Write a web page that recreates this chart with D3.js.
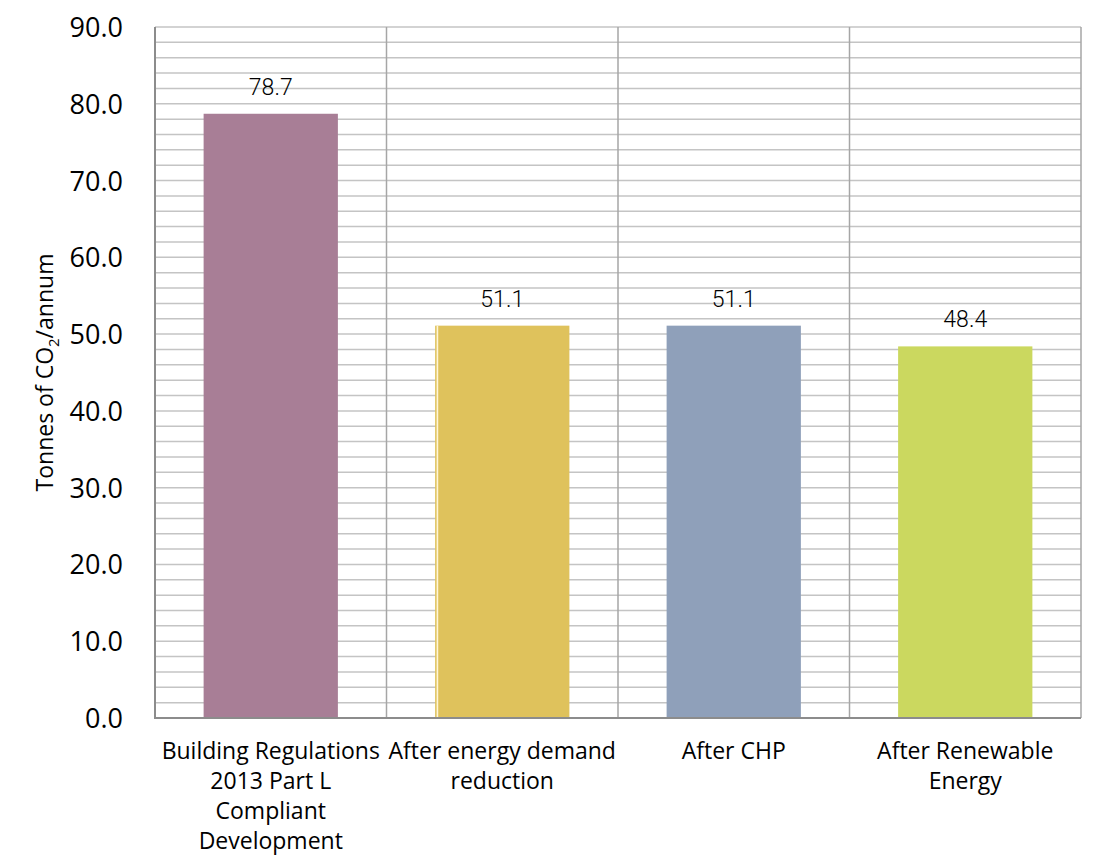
<!DOCTYPE html>
<html><head><meta charset="utf-8">
<script src="https://cdn.jsdelivr.net/npm/d3@7"></script>
<style>body{margin:0;background:#fff}svg{display:block}</style>
</head><body>
<svg id="c" width="1097" height="868"></svg>
<script>
const categories = [
  ["Building Regulations","2013 Part L","Compliant","Development"],
  ["After energy demand","reduction"],
  ["After CHP"],
  ["After Renewable","Energy"]
];
const values = [78.7, 51.1, 51.1, 48.4];
const colors = ["#A87E96", "#DFC25C", "#8FA0BA", "#CBD85F"];
const yTicks = [0,10,20,30,40,50,60,70,80,90];
const minorStep = 2;

const svg = d3.select("#c");
const m = {l:155, r:1081, t:27, b:718};
const x = d3.scaleBand().domain(d3.range(categories.length)).range([m.l, m.r]).paddingInner(0.42).paddingOuter(0.21);
const xb = d3.scaleBand().domain(d3.range(categories.length)).range([m.l, m.r]);
const y = d3.scaleLinear().domain([0,90]).range([m.b, m.t]);

// horizontal gridlines every 2
const minor = d3.range(0, 90 + 0.001, minorStep);
svg.append("g").selectAll("line").data(minor).join("line")
  .attr("x1", m.l).attr("x2", m.r)
  .attr("y1", d=>y(d)).attr("y2", d=>y(d))
  .attr("stroke", "#C4C4C4").attr("stroke-width", 1.5);
// vertical category separators
const seps = d3.range(1, categories.length + 1).map(i => i === categories.length ? m.r : xb(i));
svg.append("g").selectAll("line").data(seps).join("line")
  .attr("x1", d=>d).attr("x2", d=>d).attr("y1", m.t).attr("y2", m.b)
  .attr("stroke", "#A6A6A6").attr("stroke-width", 1.5);

// bars
svg.append("g").selectAll("rect").data(values).join("rect")
  .attr("x", (d,i)=>x(i)).attr("width", x.bandwidth())
  .attr("y", d=>y(d)).attr("height", d=>m.b - y(d))
  .attr("fill", (d,i)=>colors[i]);
// thin highlight line on second bar (as in reference)
svg.append("line").attr("x1", x(1)+2.3).attr("x2", x(1)+2.3)
  .attr("y1", y(values[1])).attr("y2", m.b)
  .attr("stroke", "#FFF6D8").attr("stroke-width", 1.6);

// axes lines
svg.append("line").attr("x1", m.l).attr("x2", m.l).attr("y1", m.t).attr("y2", m.b)
  .attr("stroke", "#8C8C8C").attr("stroke-width", 2);
svg.append("line").attr("x1", m.l-1).attr("x2", m.r).attr("y1", m.b).attr("y2", m.b)
  .attr("stroke", "#8C8C8C").attr("stroke-width", 2);

// y tick labels
svg.append("g").selectAll("text").data(yTicks).join("text")
  .attr("x", 123).attr("y", d=>y(d)+10)
  .attr("text-anchor", "end")
  .attr("font-family", "'Open Sans', sans-serif").attr("font-size", 27)
  .attr("fill", "#000")
  .text(d=>d.toFixed(1));

// data labels
svg.append("g").selectAll("text").data(values).join("text")
  .attr("x", (d,i)=>x(i)+x.bandwidth()/2).attr("y", d=>y(d)-19)
  .attr("text-anchor", "middle")
  .attr("font-family", "Roboto, sans-serif").attr("font-size", 23).attr("font-weight", 300)
  .attr("fill", "#000")
  .text(d=>d.toFixed(1));

// category labels
const cg = svg.append("g").selectAll("text").data(categories).join("text")
  .attr("x", (d,i)=>xb(i)+xb.bandwidth()/2).attr("y", 759)
  .attr("text-anchor", "middle")
  .attr("font-family", "'Open Sans', sans-serif").attr("font-size", 23)
  .attr("fill", "#000");
cg.selectAll("tspan").data(d=>d).join("tspan")
  .attr("x", function(){return this.parentNode.getAttribute("x");})
  .attr("dy", (d,i)=> i===0 ? 0 : 30)
  .text(d=>d);

// y axis title
const t = svg.append("text")
  .attr("transform", `translate(53,${(m.t+m.b)/2}) rotate(-90)`)
  .attr("text-anchor", "middle")
  .attr("font-family", "'Open Sans', sans-serif").attr("font-size", 23)
  .attr("fill", "#000");
t.append("tspan").text("Tonnes of CO");
t.append("tspan").attr("font-size", 15).attr("dy", 6).text("2");
t.append("tspan").attr("dy", -6).text("/annum");
</script>
</body></html>
